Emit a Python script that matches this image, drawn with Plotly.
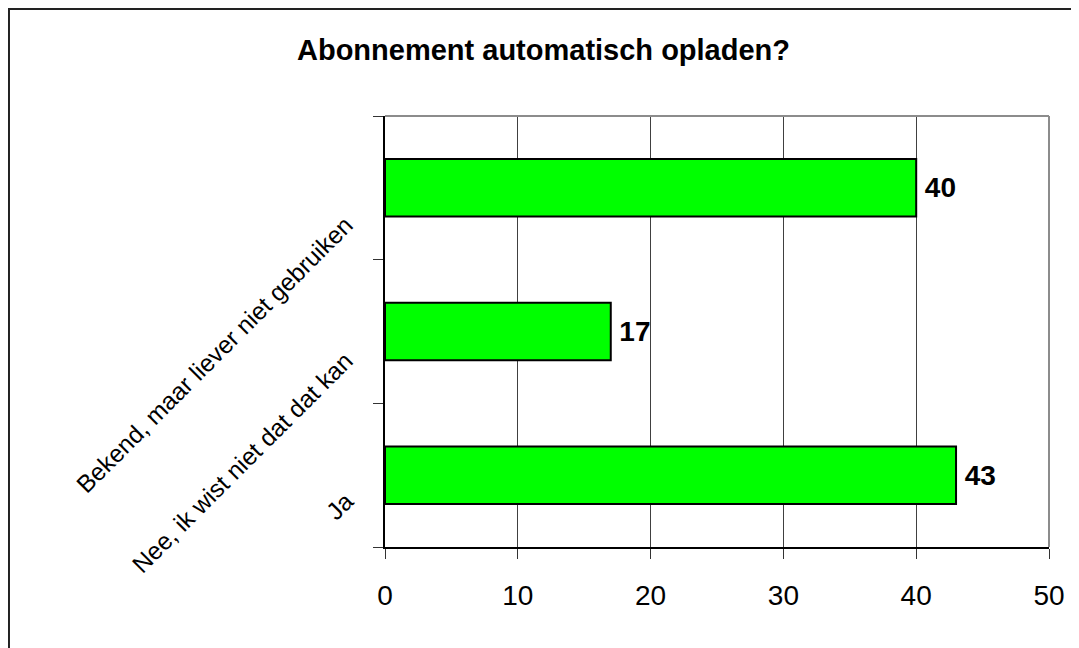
import plotly.graph_objects as go

# survey answers, bottom to top as drawn
categories = ["Ja", "Nee, ik wist niet dat dat kan", "Bekend, maar liever niet gebruiken"]
values = [43, 17, 40]
x_ticks = [0, 10, 20, 30, 40, 50]

# how far each rotated label sits below its bar (px)
label_drop = [10, 13, 20]

FONT = "Liberation Sans, Arial, sans-serif"

# the page puts the figure 8px in from the top-left, so size it to fit
W, H = 1071, 640

fig = go.Figure()

fig.add_trace(go.Bar(
    y=categories,
    x=values,
    orientation="h",
    marker=dict(color="#00ff00", line=dict(color="black", width=2)),
    width=0.4,
    text=values,
    texttemplate="\u2009%{x}",
    textposition="outside",
    textfont=dict(family=FONT, size=28, color="black", weight="bold"),
    cliponaxis=False,
    showlegend=False,
))

# category labels, rotated like the original
for cat, drop in zip(categories, label_drop):
    fig.add_annotation(
        x=-0.036, xref="paper", xanchor="right",
        y=cat, yref="y", yanchor="top", yshift=-drop,
        text=cat, textangle=-45, showarrow=False,
        font=dict(family=FONT, size=24.5, color="black"),
    )

# top and right frame lines (grey), outer chart border
fig.add_shape(type="line", xref="paper", yref="paper", x0=0, x1=1, y0=1, y1=1,
              line=dict(color="#8c8c8c", width=2))
fig.add_shape(type="line", xref="paper", yref="paper", x0=1, x1=1, y0=0, y1=1,
              line=dict(color="#8c8c8c", width=2))
fig.add_shape(type="rect", xref="paper", yref="paper",
              x0=-0.5663, x1=1.1, y0=-0.3, y1=1.2483,
              line=dict(color="#222222", width=2))

fig.update_layout(
    width=W, height=H,
    margin=dict(l=377, r=30, t=108, b=101),
    paper_bgcolor="white", plot_bgcolor="white",
    title=dict(text="<b>Abonnement automatisch opladen?</b>",
               x=0.5, xref="container", xanchor="center",
               y=1 - 42 / H, yref="container", yanchor="middle",
               font=dict(family=FONT, size=29, color="black")),
    bargap=0.6,
    xaxis=dict(range=[0, 50], tickvals=x_ticks, ticks="outside", ticklen=10,
               tickcolor="#333333", tickwidth=1,
               showline=True, linecolor="black", linewidth=2,
               showgrid=True, gridcolor="#404040", gridwidth=1,
               zeroline=False, ticklabelstandoff=12,
               tickfont=dict(family=FONT, size=28, color="black"),
               fixedrange=True),
    yaxis=dict(type="category", categoryorder="array", categoryarray=categories,
               range=[-0.5, 2.5], autorange=False,
               tickson="boundaries", ticks="outside", ticklen=10,
               tickcolor="#333333", tickwidth=1,
               showticklabels=False, showgrid=False,
               showline=True, linecolor="black", linewidth=2,
               fixedrange=True),
)

fig.write_html("out.html")
